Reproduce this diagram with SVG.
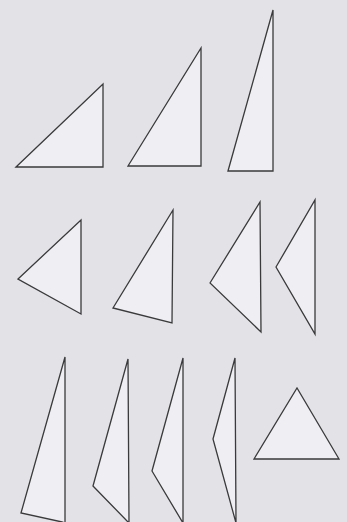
<svg xmlns="http://www.w3.org/2000/svg" width="347" height="522" viewBox="0 0 347 522">
<style>
.t{fill:#efeef3;stroke:#3a3a3c;stroke-width:1.3;stroke-linejoin:miter}
</style>
<rect x="0" y="0" width="347" height="522" fill="#e3e3e7"/>
<g id="t1"><polygon class="t" points="16,167 103,84 103,167"/></g>
<g id="t2"><polygon class="t" points="128,166 201,48 201,166"/></g>
<g id="t3"><polygon class="t" points="228,171 273,10 273,171"/></g>
<g id="t4"><polygon class="t" points="18,279 81,220 81,314"/></g>
<g id="t5"><polygon class="t" points="113,308 173,210 172,323"/></g>
<g id="t6"><polygon class="t" points="210,283 260,202 261,332"/></g>
<g id="t7"><polygon class="t" points="276,267 315,200 315,334"/></g>
<g id="t8"><polygon class="t" points="21,513 65,357 65,523 62,522"/></g>
<g id="t9"><polygon class="t" points="93,486 128,359 129,523 128,522"/></g>
<g id="t10"><polygon class="t" points="152,471 183,358 183,523"/></g>
<g id="t11"><polygon class="t" points="213,439 235,358 236,523"/></g>
<g id="t12"><polygon class="t" points="254,459 297,388 339,459"/></g>
</svg>
